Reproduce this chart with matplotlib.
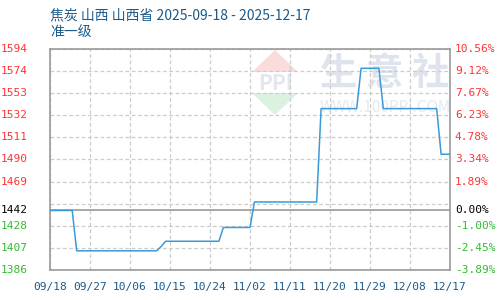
import pandas as pd
import numpy as np
import matplotlib.pyplot as plt
from matplotlib.patches import Polygon

plt.rcParams['font.family'] = ['Noto Sans CJK SC', 'DejaVu Sans']

# price points (day offset from 2025-09-18, price)
days = [0, 5, 6, 24, 25, 26, 38, 39, 45, 46, 60, 61, 69, 70, 74, 75, 87, 88, 90]
prices = [1442, 1442, 1404, 1404, 1408, 1413, 1413, 1426, 1426, 1450,
          1450, 1538, 1538, 1576, 1576, 1538, 1538, 1495, 1495]
base = 1442

left_labels = ["1386", "1407", "1428", "", "1469", "1490", "1511", "1532", "1553", "1574", "1594"]
right_labels = ["-3.89%", "-2.45%", "-1.00%", "", "1.89%", "3.34%", "4.78%", "6.23%", "7.67%", "9.12%", "10.56%"]
x_labels = ["09/18", "09/27", "10/06", "10/15", "10/24", "11/02", "11/11", "11/20", "11/29", "12/08", "12/17"]

start = pd.Timestamp("2025-09-18")
dates = [start + pd.Timedelta(days=d) for d in days]
xticks = [start + pd.Timedelta(days=9 * i) for i in range(11)]

ymin, ymax = base * (1 - 0.0389), base * (1 + 0.1056)
yticks = np.linspace(ymin, ymax, 11)

red, green, navy = "#ff3333", "#33bb33", "#1a5a8a"

fig = plt.figure(figsize=(5, 3), dpi=100)
ax = fig.add_axes([0.10, 0.10, 0.80, 0.737])
ax.set_xlim(start, start + pd.Timedelta(days=90))
ax.set_ylim(ymin, ymax)

# watermark
wm = fig.add_axes([0, 0, 1, 1], zorder=0)
wm.set_xlim(0, 500)
wm.set_ylim(300, 0)
wm.axis('off')
wm.add_patch(Polygon([[275, 50], [252, 72], [298, 72]], closed=True, fc="#fbdcdc", ec="none"))
wm.add_patch(Polygon([[252, 93], [298, 93], [275, 115]], closed=True, fc="#dcf1e0", ec="none"))
wm.text(275, 83, "PPI", ha='center', va='center', fontsize=15, color="#e2e6f0", fontweight='bold')
wm.text(385, 74, "生 意 社", ha='center', va='center', fontsize=27, color="#dfe3ed", fontweight='bold')
wm.text(385, 108, "WWW.100PPI.COM", ha='center', va='center', fontsize=11, color="#e6e9ef")
ax.set_zorder(1)
ax.patch.set_alpha(0)

ax.plot(dates, prices, color="#3a9ad9", lw=1.1, zorder=3)
ax.axhline(base, color="#999999", lw=1.2, zorder=2)

ax.set_yticks(yticks)
ax.set_xticks(xticks)
ax.grid(True, ls=(0, (3, 2)), color="#cccccc", lw=0.9)
ax.tick_params(length=0, labelleft=False, labelbottom=False)
for s in ax.spines.values():
    s.set_color("#999999")
    s.set_linewidth(1.2)

mono = "DejaVu Sans Mono"
for v, l, r in zip(yticks, left_labels, right_labels):
    if not l:
        continue
    c = red if v > base else green
    ax.text(-0.055, v, l, transform=ax.get_yaxis_transform(), ha='right', va='center',
            fontsize=8, color=c, family=mono)
    ax.text(1.012, v, r, transform=ax.get_yaxis_transform(), ha='left', va='center',
            fontsize=8, color=c, family=mono)
ax.text(-0.055, base, "1442", transform=ax.get_yaxis_transform(), ha='right', va='center',
        fontsize=8, color="black", family=mono)
ax.text(1.012, base, "0.00%", transform=ax.get_yaxis_transform(), ha='left', va='center',
        fontsize=8, color="black", family=mono)

for d, l in zip(xticks, x_labels):
    ax.text(d, -0.075, l, transform=ax.get_xaxis_transform(), ha='center', va='center',
            fontsize=8, color=navy, family=mono)

fig.text(0.10, 0.95, "焦炭 山西 山西省 2025-09-18 - 2025-12-17", fontsize=10, color=navy, va='center')
fig.text(0.10, 0.89, "准一级", fontsize=10, color=navy, va='center')

fig.savefig("out.png", dpi=100)
